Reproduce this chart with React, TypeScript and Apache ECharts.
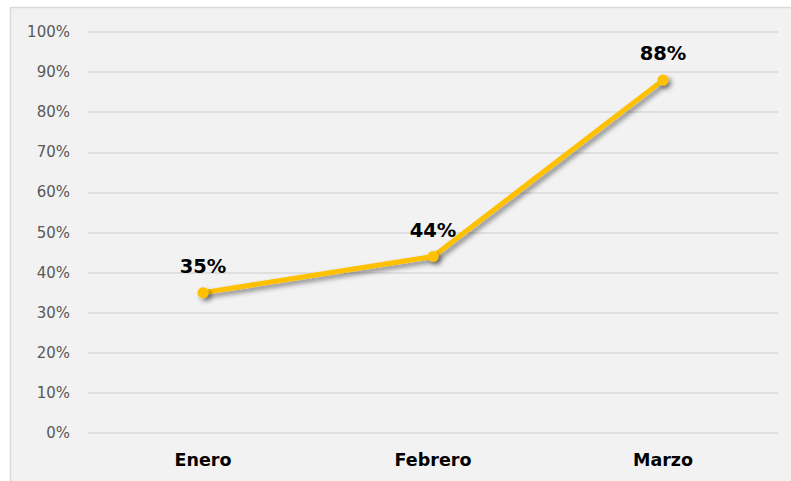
import React, { useEffect, useRef } from "react";
import * as echarts from "echarts";

const categories = ["Enero", "Febrero", "Marzo"];
const values = [35, 44, 88];
const yTicks = [0, 10, 20, 30, 40, 50, 60, 70, 80, 90, 100];

export default function App() {
  const ref = useRef<HTMLDivElement>(null);
  useEffect(() => {
    if (!ref.current) return;
    const chart = echarts.init(ref.current, null, { renderer: "svg" });
    chart.setOption({
      animation: false,
      backgroundColor: "#ffffff",
      graphic: [
        {
          type: "rect",
          z: -10,
          shape: { x: 10.5, y: 7.5, width: 790, height: 480 },
          style: { fill: "#F2F2F2", stroke: "#D9D9D9", lineWidth: 1.5 },
        },
      ],
      grid: { left: 88, right: 13, top: 32, bottom: 48, containLabel: false },
      xAxis: {
        type: "category",
        data: categories,
        axisLine: { show: false },
        axisTick: { show: false },
        axisLabel: {
          color: "#000000",
          fontWeight: "bold",
          fontSize: 17.5,
          fontFamily: "DejaVu Sans",
          margin: 18,
        },
      },
      yAxis: {
        type: "value",
        min: 0,
        max: yTicks[yTicks.length - 1],
        interval: 10,
        axisLine: { show: false },
        axisTick: { show: false },
        splitLine: { lineStyle: { color: "#D9D9D9", width: 1.5 } },
        axisLabel: {
          color: "#595959",
          fontSize: 15,
          fontFamily: "DejaVu Sans",
          margin: 18,
          formatter: (v: number) => v + "%",
        },
      },
      series: [
        {
          type: "line",
          data: values,
          symbol: "circle",
          symbolSize: 11,
          lineStyle: {
            color: "#FFC000",
            width: 5,
            shadowColor: "rgba(0,0,0,0.45)",
            shadowBlur: 5,
            shadowOffsetX: 3,
            shadowOffsetY: 3,
          },
          itemStyle: {
            color: "#FFC000",
            shadowColor: "rgba(0,0,0,0.45)",
            shadowBlur: 5,
            shadowOffsetX: 3,
            shadowOffsetY: 3,
          },
          label: {
            show: true,
            position: "top",
            distance: 11,
            formatter: (p: any) => p.value + "%",
            color: "#000000",
            fontWeight: "bold",
            fontSize: 19.5,
            fontFamily: "DejaVu Sans",
          },
        },
      ],
    });
    return () => chart.dispose();
  }, []);
  return (
    <div
      ref={ref}
      style={{ position: "fixed", left: 0, top: 0, width: 791, height: 481 }}
    />
  );
}
